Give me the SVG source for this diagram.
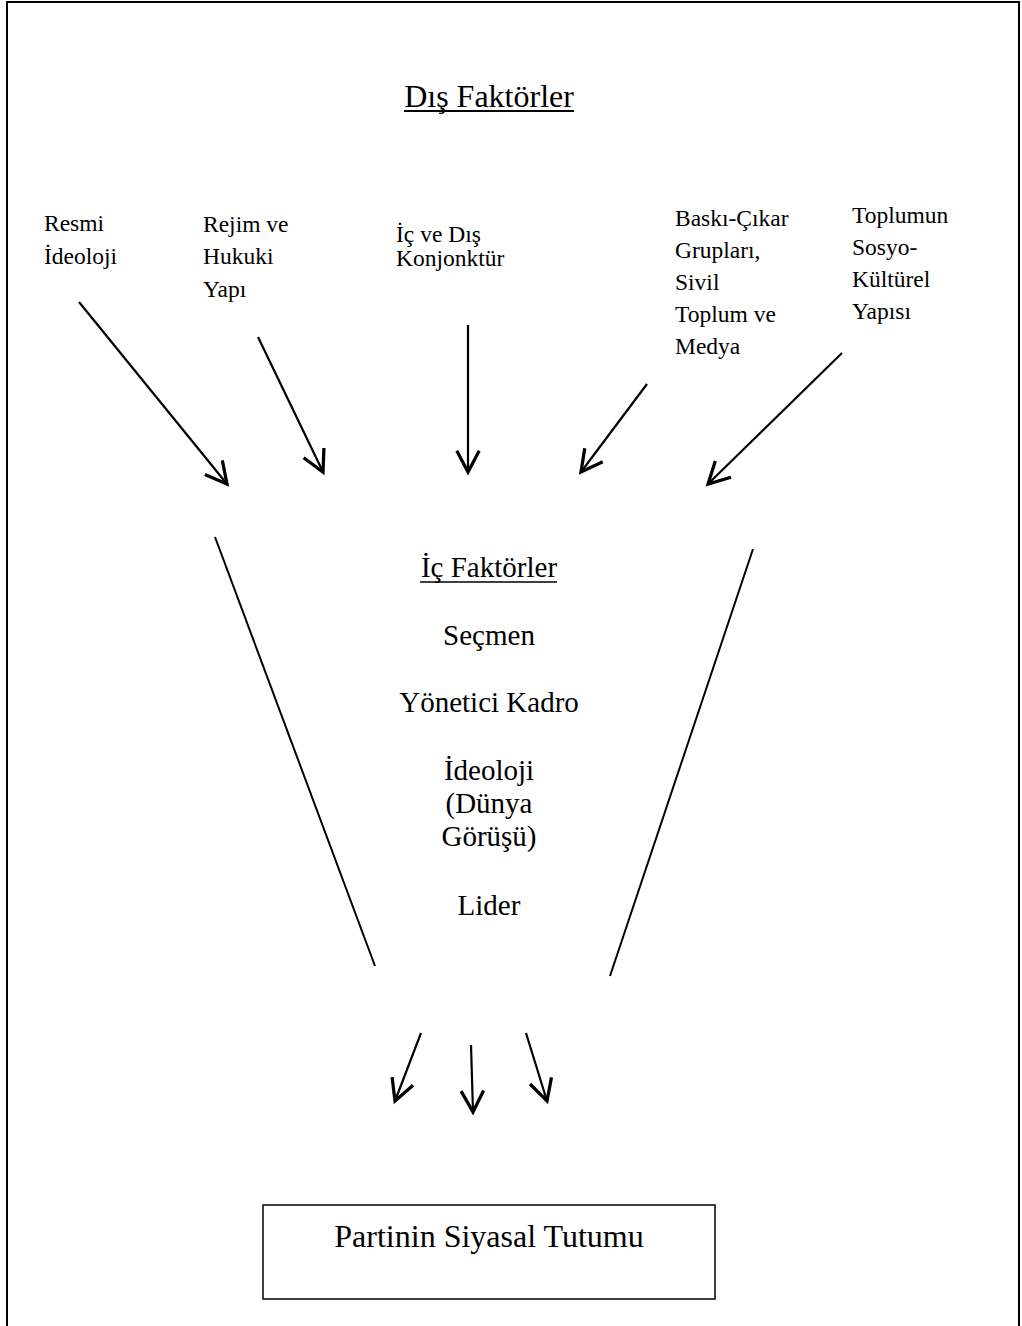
<svg xmlns="http://www.w3.org/2000/svg" width="1022" height="1326" viewBox="0 0 1022 1326">
<style>
text{font-family:"Liberation Serif","Times New Roman",serif;fill:#000}
.s{font-size:23.5px}
.m{font-size:29px;text-anchor:middle}
.t{font-size:32px;text-anchor:middle}
.ln{stroke:#000;stroke-width:2;fill:none}
.ar{stroke:#000;stroke-width:2.2;fill:none;marker-end:url(#ah)}
</style>
<defs>
<marker id="ah" markerUnits="userSpaceOnUse" markerWidth="30" markerHeight="30" viewBox="-20 -12 24 24" refX="0" refY="0" orient="auto">
<path d="M-17,-9 L0,0 L-17,9" fill="none" stroke="#000" stroke-width="2.6"/>
</marker>
</defs>
<rect width="1022" height="1326" fill="#fff"/>
<path d="M7,1326 V2 H1019 V1326" fill="none" stroke="#000" stroke-width="2"/>
<g id="dis-faktorler">
<text class="t" x="489" y="107">Dış Faktörler</text>
<line x1="404" y1="111" x2="574" y2="111" stroke="#000" stroke-width="2"/>
</g>
<g id="resmi-ideoloji">
<text class="s" x="44" y="231">Resmi</text>
<text class="s" x="44" y="264">İdeoloji</text>
</g>
<g id="rejim">
<text class="s" x="203" y="232">Rejim ve</text>
<text class="s" x="203" y="264">Hukuki</text>
<text class="s" x="203" y="297">Yapı</text>
</g>
<g id="konjonktur">
<text class="s" x="396" y="242">İç ve Dış</text>
<text class="s" x="396" y="266">Konjonktür</text>
</g>
<g id="baski">
<text class="s" x="675" y="226">Baskı-Çıkar</text>
<text class="s" x="675" y="258">Grupları,</text>
<text class="s" x="675" y="290">Sivil</text>
<text class="s" x="675" y="322">Toplum ve</text>
<text class="s" x="675" y="354">Medya</text>
</g>
<g id="toplum">
<text class="s" x="852" y="223">Toplumun</text>
<text class="s" x="852" y="255">Sosyo-</text>
<text class="s" x="852" y="287">Kültürel</text>
<text class="s" x="852" y="319">Yapısı</text>
</g>
<g id="ic-faktorler">
<text class="m" x="489" y="577">İç Faktörler</text>
<line x1="420" y1="582" x2="557" y2="582" stroke="#000" stroke-width="1.6"/>
<text class="m" x="489" y="645">Seçmen</text>
<text class="m" x="489" y="712">Yönetici Kadro</text>
<text class="m" x="489" y="780">İdeoloji</text>
<text class="m" x="489" y="813">(Dünya</text>
<text class="m" x="489" y="846">Görüşü)</text>
<text class="m" x="489" y="915">Lider</text>
</g>
<g id="partinin">
<rect x="263" y="1205" width="452" height="94" fill="none" stroke="#000" stroke-width="1.5"/>
<text class="t" x="489" y="1247">Partinin Siyasal Tutumu</text>
</g>
<g id="connectors">
<line class="ar" x1="79" y1="302" x2="227" y2="484"/>
<line class="ar" x1="258" y1="337" x2="323" y2="472"/>
<line class="ar" x1="468" y1="325" x2="468" y2="472"/>
<line class="ar" x1="647" y1="384" x2="581" y2="472"/>
<line class="ar" x1="842" y1="353" x2="708" y2="484"/>
<line class="ln" x1="215" y1="537" x2="375" y2="966"/>
<line class="ln" x1="753" y1="549" x2="610" y2="976"/>
<line class="ar" x1="421" y1="1033" x2="395" y2="1101"/>
<line class="ar" x1="471" y1="1045" x2="473" y2="1112"/>
<line class="ar" x1="526" y1="1033" x2="547" y2="1101"/>
</g>
</svg>
